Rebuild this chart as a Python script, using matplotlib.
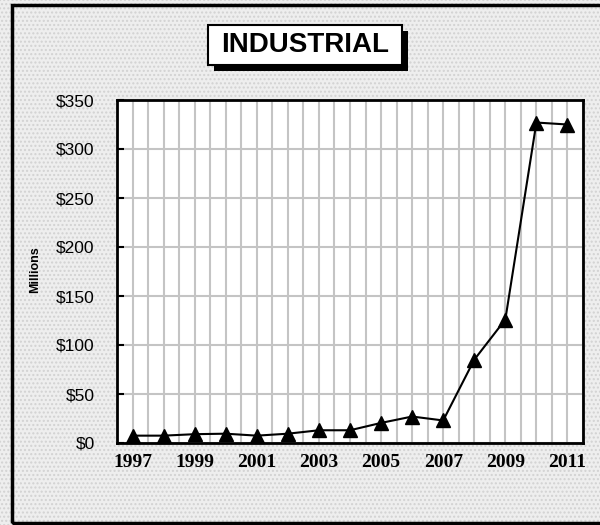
import numpy as np
import matplotlib.pyplot as plt
from matplotlib.patches import Rectangle
from matplotlib.ticker import FuncFormatter

# ── Data ─────────────────────────────────────────────────────────────────────
years  = [1997, 1998, 1999, 2000, 2001, 2002, 2003, 2004,
          2005, 2006, 2007, 2008, 2009, 2010, 2011]
values = [7.5, 7.5, 9, 9.5, 7.5, 9.5, 13, 13,
          20.5, 27, 23, 85, 126, 327, 325]
y_ticks = [0, 50, 100, 150, 200, 250, 300, 350]
title_text = "INDUSTRIAL"
y_label = "Millions"

W, H = 600, 525
fig = plt.figure(figsize=(W / 100, H / 100), dpi=100)
fig.patch.set_facecolor("white")

# dotted background + frame
bg = Rectangle((0, 0), 1, 1, transform=fig.transFigure, facecolor="#eeeeee",
               edgecolor="#d2d2d2", hatch="....", lw=0, zorder=-10)
fig.patches.append(bg)
fig.patches.append(Rectangle((12 / W, 1 - 523 / H), 1, (523 - 5) / H,
                             transform=fig.transFigure, fill=False,
                             edgecolor="black", lw=2.5, zorder=-5))

# ── Axes ─────────────────────────────────────────────────────────────────────
ax = fig.add_axes([117 / W, 1 - 443 / H, (583 - 117) / W, (443 - 100) / H])
ax.set_facecolor("white")
x = np.arange(len(years))
ax.plot(x, values, color="black", lw=1.5, marker="^", markersize=10,
        zorder=3, clip_on=False)

ax.set_xlim(-0.5, len(years) - 0.5)
ax.set_ylim(0, 350)
ax.set_xticks(x[::2])
ax.set_xticklabels([str(y) for y in years[::2]])
ax.set_xticks(np.arange(-0.5, len(years), 0.5), minor=True)
ax.xaxis.remove_overlapping_locs = False
ax.set_yticks(y_ticks)
ax.yaxis.set_major_formatter(FuncFormatter(lambda v, p: f"${v:.0f}"))

ax.grid(True, which="minor", axis="x", color="#c4c4c4", lw=1.5)
ax.grid(True, which="major", axis="y", color="#c4c4c4", lw=1.5)
ax.set_axisbelow(True)

ax.tick_params(axis="x", which="both", length=0, pad=8)
ax.tick_params(axis="y", direction="in", length=5, width=1.5, pad=16)
for lab in ax.get_xticklabels():
    lab.set_fontfamily("Liberation Serif")
    lab.set_fontweight("bold")
    lab.set_fontsize(14)
for lab in ax.get_yticklabels():
    lab.set_fontfamily("Liberation Sans")
    lab.set_fontsize(12.5)
for s in ax.spines.values():
    s.set_linewidth(2)
    s.set_color("black")

fig.text(35 / W, 1 - 270 / H, y_label, rotation=90, ha="center", va="center",
         fontsize=9, fontweight="bold", family="Liberation Sans")

# ── Title box with shadow ────────────────────────────────────────────────────
bx0, bx1, by0, by1 = 208, 402, 25, 65
fig.patches.append(Rectangle(((bx0 + 6) / W, 1 - (by1 + 6) / H),
                             (bx1 - bx0) / W, (by1 - by0) / H,
                             transform=fig.transFigure, facecolor="black",
                             edgecolor="black", lw=0, zorder=1))
fig.patches.append(Rectangle((bx0 / W, 1 - by1 / H),
                             (bx1 - bx0) / W, (by1 - by0) / H,
                             transform=fig.transFigure, facecolor="white",
                             edgecolor="black", lw=1.5, zorder=2))
fig.text((bx0 + bx1) / 2 / W, 1 - 45 / H, title_text, ha="center",
         va="center", fontsize=20, fontweight="bold", family="Liberation Sans",
         zorder=3)

fig.savefig("out.png", dpi=100)
